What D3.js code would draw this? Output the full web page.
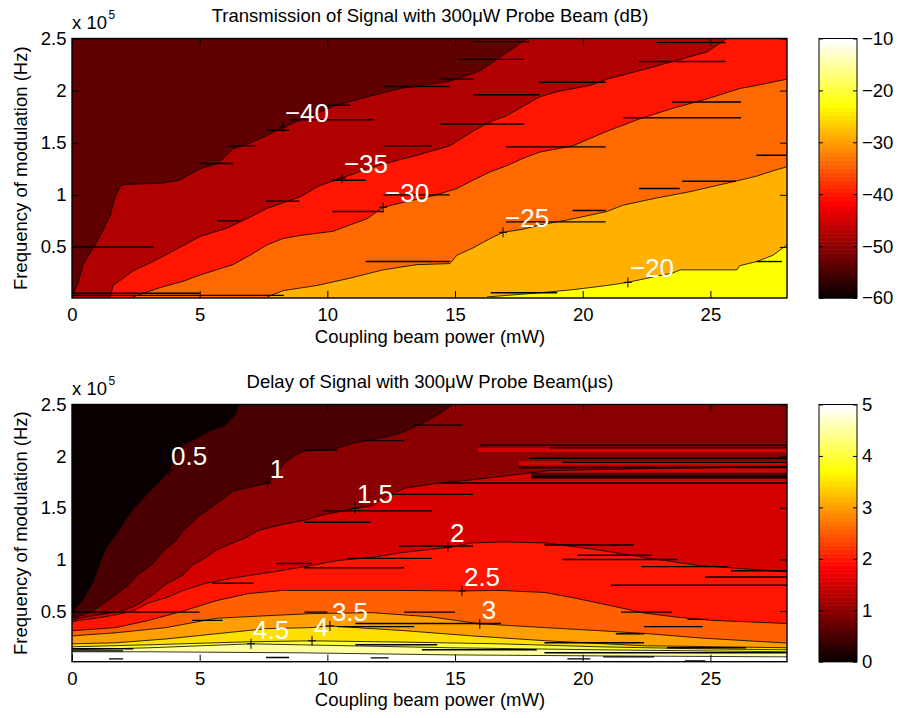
<!DOCTYPE html>
<html>
<head>
<meta charset="utf-8">
<script src="https://d3js.org/d3.v7.min.js"></script>
<style>
body { margin: 0; background: #fff; }
</style>
</head>
<body>
<div id="chart"></div>
<script>
var FONT = "Liberation Sans, Arial, sans-serif";

// ---- shared axes ----
var xTicks = [0, 5, 10, 15, 20, 25];
var yTicks = [0.5, 1, 1.5, 2, 2.5];      // x 10^5 Hz
var xDomain = [0, 28];
var yDomain = [0.01, 2.5];

// ---- top: transmission (dB), contour lines as [mW, 1e5 Hz] ----
var txLevels = [-40, -35, -30, -25, -20];
var txFill = ["#600000", "#b00000", "#ff1500", "#ff6a00", "#ffb000", "#ffff00"];
var tx_m40 = [[0.04,0.05],[0.23,0.15],[0.43,0.33],[0.70,0.44],[0.98,0.55],[1.21,0.66],[1.49,0.80],[1.68,0.97],[1.88,1.08],[2.07,1.10],[3.45,1.11],[4.20,1.14],[5.01,1.25],[5.70,1.30],[6.30,1.44],[7.00,1.50],[7.64,1.57],[8.26,1.65],[9.20,1.74],[10.22,1.85],[11.55,1.94],[12.84,2.02],[14.80,2.09],[15.98,2.19],[16.76,2.32],[17.82,2.50]];
var tx_m35 = [[1.49,0.02],[1.61,0.13],[2.39,0.27],[3.17,0.36],[3.95,0.46],[5.01,0.60],[6.07,0.68],[7.09,0.80],[7.64,0.87],[8.93,0.98],[9.71,1.09],[10.57,1.16],[11.55,1.25],[12.57,1.32],[13.51,1.38],[14.80,1.47],[15.70,1.61],[16.37,1.70],[17.03,1.76],[17.66,1.85],[18.32,1.94],[18.99,1.99],[20.28,2.05],[20.95,2.11],[22.51,2.21],[23.53,2.28],[24.86,2.37],[25.65,2.50]];
var tx_m30 = [[2.39,0.02],[3.45,0.11],[4.35,0.17],[5.01,0.23],[6.30,0.33],[6.97,0.42],[7.64,0.52],[8.26,0.58],[8.93,0.61],[10.22,0.65],[10.88,0.71],[11.55,0.77],[12.18,0.88],[12.84,0.92],[14.13,0.99],[15.07,1.06],[15.70,1.14],[16.37,1.22],[17.03,1.28],[17.66,1.35],[18.32,1.41],[19.62,1.47],[20.28,1.54],[20.95,1.61],[22.24,1.73],[23.53,1.83],[24.86,1.92],[26.15,2.02],[26.82,2.05],[28,2.11]];
var tx_m25 = [[7.64,0.02],[8.26,0.08],[9.59,0.13],[10.88,0.20],[12.18,0.28],[13.51,0.33],[14.80,0.34],[15.07,0.42],[15.70,0.49],[16.37,0.58],[16.88,0.64],[17.66,0.67],[18.32,0.71],[19.62,0.77],[20.95,0.84],[21.57,0.90],[22.90,0.97],[24.20,1.03],[26.15,1.14],[26.82,1.18],[27.45,1.23],[28,1.27]];
var tx_m20 = [[16.25,0.02],[18.32,0.06],[19.62,0.09],[20.95,0.13],[21.77,0.16],[22.90,0.22],[23.53,0.25],[23.81,0.28],[26.04,0.28],[26.15,0.32],[26.82,0.36],[27.45,0.42],[28,0.52]];
// jagged horizontal runs of the contour lines: [x from, x to, y]
var txSpikes = [[0,3.2,0.50],[0,8.3,0.035],[0,5.0,0.055],[5.0,6.3,1.30],[6.1,7.2,1.47],[7.6,8.5,1.62],[8.5,11.8,1.72],[9.6,10.9,1.86],
  [12.2,14.8,2.04],[14.4,15.7,2.11],[15.1,17.7,2.30],[15.7,17.9,2.47],[5.7,6.6,0.75],[7.6,8.9,0.94],[10.2,11.5,1.14],
  [12.2,14.1,1.47],[14.4,17.7,1.68],[15.7,18.3,1.96],[18.3,20.9,2.08],[22.2,25.6,2.28],[22.9,25.6,2.46],[10.2,12.2,0.84],
  [12.2,14.8,1.00],[17.0,20.9,1.46],[21.6,26.2,1.74],[23.5,26.2,1.89],[26.8,28,1.38],[19.6,20.9,0.85],[17.0,20.9,0.74],
  [22.2,23.8,1.06],[23.9,26.0,1.13],[11.5,14.8,0.36],[26.8,27.8,0.36],[16.4,19.0,0.06]];
// label anchor points [x, y, level]
var txLabels = [[8.26,1.65,-40],[10.57,1.16,-35],[12.18,0.88,-30],[16.88,0.64,-25],[21.77,0.16,-20]];
var txBarTicks = [-60, -50, -40, -30, -20, -10];

// ---- bottom: delay (us) ----
var dlLevels = [0.5, 1, 1.5, 2, 2.5, 3, 3.5, 4, 4.5, 5];
var dl_05 = [[0,0.48],[0.08,0.51],[0.43,0.61],[0.82,0.78],[1.06,0.95],[1.33,1.11],[1.72,1.24],[2.11,1.39],[2.39,1.49],[2.78,1.59],[3.17,1.69],[3.56,1.79],[3.80,1.86],[4.07,2.01],[4.35,2.11],[4.85,2.17],[5.36,2.24],[5.99,2.30],[6.38,2.40],[6.54,2.50]];
var dl_1 = [[0,0.43],[0.27,0.45],[0.82,0.50],[1.21,0.57],[1.72,0.66],[2.23,0.76],[2.62,0.86],[3.17,0.96],[3.56,1.08],[4.07,1.18],[4.35,1.28],[4.58,1.33],[4.97,1.42],[5.36,1.49],[5.76,1.56],[6.30,1.66],[6.81,1.69],[7.32,1.72],[7.67,1.74],[7.87,1.79],[8.38,1.95],[8.89,2.03],[9.12,2.05],[9.79,2.06],[10.41,2.08],[11.08,2.13],[11.75,2.16],[12.37,2.19],[13.04,2.24],[13.70,2.32],[14.33,2.40],[14.88,2.50]];
var dl_15 = [[0,0.41],[0.55,0.445],[1.33,0.475],[2.11,0.51],[2.62,0.57],[3.17,0.66],[3.68,0.76],[4.35,0.85],[4.74,0.95],[5.25,1.02],[5.64,1.09],[6.30,1.16],[6.81,1.21],[7.28,1.28],[8.26,1.34],[9.12,1.38],[9.79,1.43],[10.41,1.46],[11.08,1.495],[11.75,1.52],[12.37,1.62],[13.04,1.69],[14.33,1.74],[15.66,1.77],[18.72,1.86],[22.63,1.88],[28,1.90]];
var dl_2 = [[0,0.396],[0.27,0.41],[1.06,0.436],[1.72,0.465],[2.39,0.50],[3.01,0.58],[3.68,0.63],[4.35,0.70],[5.25,0.77],[6.30,0.82],[7.60,0.87],[9.12,0.93],[10.41,0.99],[11.75,1.02],[13.04,1.07],[14.72,1.116],[15.66,1.16],[16.95,1.17],[18.52,1.16],[20.67,1.09],[22.63,1.01],[24.59,0.94],[28,0.88]];
var dl_25 = [[0,0.31],[1.72,0.34],[3.01,0.41],[4.35,0.50],[5.64,0.60],[6.93,0.67],[8.26,0.70],[12.84,0.70],[15.27,0.695],[16.76,0.70],[18.52,0.68],[19.81,0.62],[21.14,0.55],[22.44,0.48],[23.73,0.44],[25.06,0.41],[28,0.38]];
var dl_3 = [[0,0.26],[1.72,0.29],[3.68,0.34],[5.64,0.43],[7.60,0.455],[9.36,0.475],[11.75,0.485],[14.02,0.445],[15.97,0.377],[18.52,0.34],[20.67,0.31],[22.63,0.28],[24.59,0.24],[28,0.19]];
var dl_35 = [[0,0.183],[1.72,0.193],[3.68,0.23],[5.64,0.28],[7.60,0.33],[9.36,0.34],[10.10,0.356],[13.04,0.31],[15.66,0.26],[18.72,0.21],[22.44,0.164],[28,0.145]];
var dl_4 = [[0,0.154],[3.05,0.174],[6.97,0.203],[9.40,0.212],[12.84,0.20],[16.76,0.183],[20.67,0.154],[24.59,0.135],[28,0.125]];
var dl_45 = [[0,0.125],[3.05,0.145],[7.01,0.183],[10.88,0.164],[14.80,0.145],[20.67,0.125],[28,0.106]];
var dl_5 = [[0,0.106],[3.05,0.106],[8.93,0.096],[14.80,0.076],[20.67,0.066],[28,0.057]];
var dlSpikes = [[16.0,28,2.107],[18.7,28,2.08],[17.9,28,1.98],[19.2,28,1.94],[17.5,28,1.89],[18.0,28,1.80],[14.4,28,1.74],
  [13.4,15.3,2.30],[11.5,13.0,2.15],[9.1,10.4,2.06],[9.8,14.1,1.47],[9.1,11.7,1.36],[12.4,15.7,1.63],[0,5.0,0.49],
  [8.0,9.4,0.96],[5.5,7.1,0.77],[4.7,5.9,0.41],[1.45,2.0,0.037],[7.6,8.5,0.05],[11.7,12.4,0.047],[19.4,20.3,0.037],
  [20.8,22.8,0.057],[24.0,24.8,0.018],[0,2.4,0.135],[0,2.0,0.115],[11.1,14.3,0.174],[13.7,18.2,0.125],[18.5,22.4,0.193],
  [23.3,26.4,0.145],[18.5,28,0.096],[13.0,15.0,0.49],[9.1,10.0,0.49],[11.1,16.8,0.38],[10.4,13.4,0.35],[9.1,13.0,0.92],
  [10.8,14.1,1.01],[12.8,15.7,1.13],[18.5,22.0,1.14],[19.8,22.7,1.04],[19.2,23.7,1.00],[22.3,25.7,0.93],[25.8,28,0.89],
  [24.8,28,0.83],[21.1,28,0.75],[21.5,23.5,0.49],[24.1,24.9,0.42],[22.4,24.7,0.35],[21.3,22.4,0.28]];
// thin strips of another level inside a region: [x from, x to, y top, y bottom, level]
var dlBands = [[15.9,28,2.08,2.04,1.5],[17.5,28,1.95,1.91,1.5],[18.0,28,1.84,1.78,0.5]];
var dlLabels = [[3.80,1.864,0.5],[7.67,1.74,1],[11.08,1.495,1.5],[14.72,1.116,2],[15.27,0.695,2.5],[15.97,0.377,3],[10.10,0.356,3.5],[9.40,0.212,4],[7.01,0.183,4.5]];
var dlBarTicks = [0, 1, 2, 3, 4, 5];

// MATLAB hot(64)
function hot(t) {
  var k = Math.min(64, Math.floor(t * 64) + 1);
  var r = Math.min(1, k / 24), g = Math.max(0, Math.min(1, (k - 24) / 24)), b = Math.max(0, (k - 48) / 16);
  return d3.rgb(r * 255, g * 255, b * 255).formatHex();
}

var svg = d3.select("#chart").append("svg")
  .attr("width", 902).attr("height", 718)
  .style("font-family", FONT);

function panel(p) {
  var x = d3.scaleLinear().domain(xDomain).range([72, 787]);
  var y = d3.scaleLinear().domain(yDomain).range([p.top + p.height, p.top]);
  var line = d3.line().x(function(d) { return x(d[0]); }).y(function(d) { return y(d[1]); });

  svg.append("clipPath").attr("id", "clip" + p.id)
    .append("rect").attr("x", 72).attr("y", p.top).attr("width", 715).attr("height", p.height);
  var plot = svg.append("g").attr("clip-path", "url(#clip" + p.id + ")");

  plot.append("rect").attr("x", 72).attr("y", p.top).attr("width", 715).attr("height", p.height)
    .attr("fill", p.fills[0]);

  p.contours.forEach(function(c, i) {
    var pts = c.slice(), first = pts[0], last = pts[pts.length - 1];
    if (last[0] < xDomain[1]) pts.push([xDomain[1] + 1, last[1]]);
    pts.push([xDomain[1] + 1, -0.3]);
    pts.push([first[0] > 0 ? first[0] : -1, -0.3]);
    if (first[0] <= 0) pts.push([-1, first[1]]);
    plot.append("path").attr("d", line(pts) + "Z").attr("fill", p.fills[i + 1]);
  });

  (p.bands || []).forEach(function(b) {
    plot.append("rect")
      .attr("x", x(b[0])).attr("width", x(b[1]) - x(b[0]))
      .attr("y", y(b[2])).attr("height", y(b[3]) - y(b[2]))
      .attr("fill", p.fills[p.levels.indexOf(b[4]) + 1] || p.fills[0]);
  });

  p.contours.forEach(function(c) {
    plot.append("path").attr("d", line(c)).attr("fill", "none")
      .attr("stroke", "#000").attr("stroke-width", 0.8);
  });

  plot.selectAll("line.spike").data(p.spikes).join("line")
    .attr("class", "spike")
    .attr("x1", function(d) { return x(d[0]); }).attr("x2", function(d) { return x(d[1]); })
    .attr("y1", function(d) { return y(d[2]); }).attr("y2", function(d) { return y(d[2]); })
    .attr("stroke", "#000").attr("stroke-width", 1.4);

  // contour labels
  var fmt = d3.format("~g");
  p.labels.forEach(function(l) {
    var px = x(l[0]), py = y(l[1]);
    svg.append("path").attr("d", "M" + (px - 4) + "," + py + "H" + (px + 4) + "M" + px + "," + (py - 5) + "V" + (py + 5))
      .attr("stroke", "#000").attr("stroke-width", 1);
    svg.append("text").attr("x", px + 2).attr("y", py - 5)
      .attr("fill", "#fff").attr("font-size", "26px").text(fmt(l[2]));
  });

  // axes
  function style(g) {
    g.attr("font-size", "18.5px").attr("font-family", FONT);
    g.select(".domain").remove();
    g.selectAll(".tick line").attr("stroke", "#000");
    g.selectAll(".tick text").attr("fill", "#000");
  }
  svg.append("g").attr("transform", "translate(0," + (p.top + p.height) + ")")
    .call(d3.axisBottom(x).tickValues(xTicks).tickSize(-7).tickPadding(10).tickFormat(d3.format("d"))).call(style);
  svg.append("g").attr("transform", "translate(0," + p.top + ")")
    .call(d3.axisTop(x).tickValues(xTicks).tickSize(-7).tickFormat("")).call(style);
  svg.append("g").attr("transform", "translate(72,0)")
    .call(d3.axisLeft(y).tickValues(yTicks).tickSize(-7).tickPadding(5.5).tickFormat(fmt)).call(style);
  svg.append("g").attr("transform", "translate(787,0)")
    .call(d3.axisRight(y).tickValues(yTicks).tickSize(-7).tickFormat("")).call(style);
  svg.append("rect").attr("x", 72).attr("y", p.top).attr("width", 715).attr("height", p.height)
    .attr("fill", "none").attr("stroke", "#000").attr("stroke-width", 1.4);

  // exponent
  svg.append("text").attr("x", 72).attr("y", p.top - 9.5).attr("font-size", "18.5px").text("x 10");
  svg.append("text").attr("x", 108.5).attr("y", p.top - 19.5).attr("font-size", "12px").text("5");

  // titles
  svg.append("text").attr("x", 430).attr("y", p.top - 17).attr("text-anchor", "middle")
    .attr("font-size", "18.5px").text(p.title);
  svg.append("text").attr("x", 430).attr("y", p.top + p.height + 44.5).attr("text-anchor", "middle")
    .attr("font-size", "18.5px").text("Coupling beam power (mW)");
  svg.append("text").attr("transform", "translate(27," + (p.top + p.height / 2) + ") rotate(-90)")
    .attr("text-anchor", "middle").attr("font-size", "18.5px").text("Frequency of modulation (Hz)");

  // colorbar
  var c = d3.scaleLinear().domain(p.cDomain).range([p.top + p.height, p.top]);
  var step = (p.cDomain[1] - p.cDomain[0]) / 64;
  svg.selectAll("rect.cb" + p.id).data(d3.range(64)).join("rect")
    .attr("class", "cb" + p.id)
    .attr("x", 819).attr("width", 38)
    .attr("y", function(k) { return c(p.cDomain[0] + (k + 1) * step); })
    .attr("height", function(k) { return c(p.cDomain[0] + k * step) - c(p.cDomain[0] + (k + 1) * step) + 0.5; })
    .attr("fill", function(k) { return hot((k + 0.5) / 64); });
  svg.append("g").attr("transform", "translate(857,0)")
    .call(d3.axisRight(c).tickValues(p.cTicks).tickSize(-4).tickPadding(5).tickFormat(d3.format("d"))).call(style);
  svg.append("g").attr("transform", "translate(819,0)")
    .call(d3.axisLeft(c).tickValues(p.cTicks).tickSize(-4).tickFormat("")).call(style);
  svg.append("rect").attr("x", 819).attr("y", p.top).attr("width", 38).attr("height", p.height)
    .attr("fill", "none").attr("stroke", "#000").attr("stroke-width", 1);
}

panel({
  id: "tx", top: 38.5, height: 259.5,
  title: "Transmission of Signal with 300\u03bcW Probe Beam (dB)",
  levels: txLevels, fills: txFill,
  contours: [tx_m40, tx_m35, tx_m30, tx_m25, tx_m20],
  spikes: txSpikes, labels: txLabels,
  cDomain: [-60, -10], cTicks: txBarTicks
});

panel({
  id: "dl", top: 404.5, height: 257.2,
  title: "Delay of Signal with 300\u03bcW Probe Beam(\u03bcs)",
  levels: dlLevels, fills: [hot(0)].concat(dlLevels.map(function(v) { return hot(v / 5); })),
  contours: [dl_05, dl_1, dl_15, dl_2, dl_25, dl_3, dl_35, dl_4, dl_45, dl_5],
  spikes: dlSpikes, bands: dlBands, labels: dlLabels,
  cDomain: [0, 5], cTicks: dlBarTicks
});
</script>
</body>
</html>
